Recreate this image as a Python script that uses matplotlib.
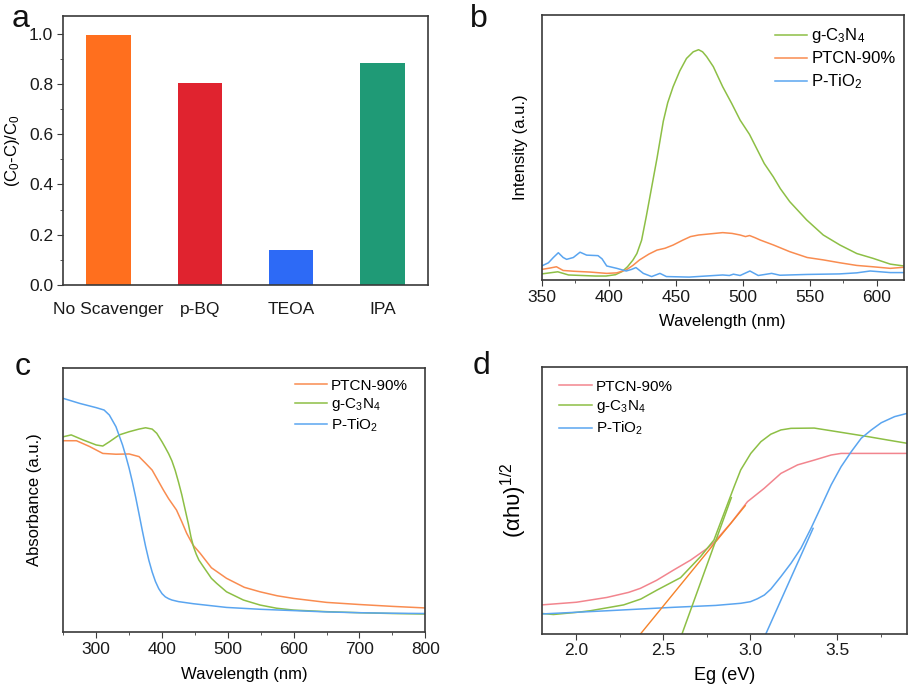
import matplotlib
matplotlib.use("Agg")
import matplotlib.pyplot as plt
from matplotlib.ticker import MultipleLocator

plt.rcParams['font.family'] = ['Liberation Sans', 'DejaVu Sans']
plt.rcParams['mathtext.default'] = 'regular'
plt.rcParams['axes.edgecolor'] = '#3a3a3a'
plt.rcParams['axes.linewidth'] = 1.2
plt.rcParams['xtick.color'] = '#3a3a3a'
plt.rcParams['ytick.color'] = '#3a3a3a'
plt.rcParams['xtick.labelcolor'] = '#1a1a1a'
plt.rcParams['ytick.labelcolor'] = '#1a1a1a'

# ---------------- Panel a: scavenger bars ----------------
scavengers = ['No Scavenger', 'p-BQ', 'TEOA', 'IPA']
removal = [0.995, 0.805, 0.14, 0.885]
bar_colors = ['#FF6F1E', '#E0232F', '#2D6AF6', '#1F9A76']

# ---------------- Panel b: PL spectra ----------------
pl_gcn_wl = [350, 356, 362, 370, 380, 390, 398, 405, 410, 414, 418, 421, 424.5, 428, 432, 436,
             440.7, 444, 448, 453, 458, 463, 467, 470, 473, 478, 485, 491.7, 498, 505, 510, 516,
             522.7, 528, 535, 547.6, 560, 572.5, 585, 597, 610, 620]
pl_gcn = [0.023, 0.027, 0.031, 0.019, 0.017, 0.015, 0.015, 0.02, 0.032, 0.05, 0.075, 0.1, 0.15, 0.24,
          0.35, 0.46, 0.60, 0.67, 0.73, 0.79, 0.837, 0.862, 0.870, 0.862, 0.844, 0.806, 0.73, 0.667,
          0.604, 0.55, 0.50, 0.44, 0.39, 0.345, 0.296, 0.227, 0.17, 0.132, 0.10, 0.082, 0.06, 0.053]
pl_ptcn_wl = [350, 356, 361, 366, 374, 386, 398.5, 406, 413, 418, 423, 430, 436, 442, 448, 455, 461,
              467, 473, 485, 492, 498, 502, 505, 509, 513, 523, 535, 548, 560, 572.5, 585, 597, 610, 620]
pl_ptcn = [0.04, 0.045, 0.05, 0.036, 0.033, 0.03, 0.025, 0.027, 0.038, 0.055, 0.076, 0.098, 0.113,
           0.12, 0.132, 0.15, 0.164, 0.17, 0.173, 0.179, 0.176, 0.17, 0.164, 0.168, 0.16, 0.151, 0.132,
           0.107, 0.085, 0.076, 0.065, 0.055, 0.05, 0.044, 0.048]
pl_tio2_wl = [350, 355, 358.7, 362.4, 366, 368.6, 373.6, 378.6, 383.5, 392, 395, 398.5, 406, 413, 417,
              420.3, 425.8, 432, 438.2, 443, 460, 485, 490, 493, 498, 505.3, 511.5, 521.5, 527.7, 548,
              572, 585, 595, 610, 620]
pl_tio2 = [0.053, 0.065, 0.085, 0.103, 0.085, 0.078, 0.085, 0.105, 0.094, 0.092, 0.08, 0.053, 0.044,
           0.034, 0.04, 0.047, 0.025, 0.013, 0.025, 0.013, 0.011, 0.019, 0.017, 0.022, 0.017, 0.034,
           0.017, 0.025, 0.018, 0.021, 0.023, 0.027, 0.034, 0.028, 0.028]

# ---------------- Panel c: UV-vis absorbance ----------------
abs_tio2_wl = [250, 275, 300, 312, 320, 330, 340, 345, 350, 355, 360, 365, 370, 375, 380, 385, 390,
               395, 400, 405, 410, 415, 425, 447.6, 498, 549, 600, 650, 700, 750, 800]
abs_tio2 = [0.884, 0.865, 0.849, 0.84, 0.821, 0.777, 0.708, 0.666, 0.62, 0.568, 0.51, 0.448, 0.385,
            0.325, 0.272, 0.228, 0.192, 0.165, 0.146, 0.134, 0.127, 0.122, 0.116, 0.108, 0.094, 0.087,
            0.082, 0.077, 0.074, 0.072, 0.071]
abs_gcn_wl = [250, 262, 280, 300, 310, 320, 335, 350, 365, 375, 385, 392, 400, 405, 410, 415, 420, 425,
              430, 435, 440, 444, 448, 452, 456, 462.8, 475, 483, 498, 523.6, 549, 574, 600, 650, 700,
              750, 800]
abs_gcn = [0.739, 0.746, 0.727, 0.708, 0.704, 0.72, 0.746, 0.758, 0.768, 0.773, 0.768, 0.752, 0.72,
           0.698, 0.675, 0.648, 0.612, 0.568, 0.52, 0.465, 0.41, 0.36, 0.322, 0.295, 0.273, 0.248,
           0.204, 0.185, 0.153, 0.122, 0.103, 0.091, 0.084, 0.078, 0.074, 0.071, 0.069]
abs_ptcn_wl = [250, 270, 290, 310, 330, 350, 365, 375, 385, 395, 402, 410, 422, 430, 437.5, 447, 457.8,
               475, 498, 525, 549, 575, 600, 650, 700, 750, 800]
abs_ptcn = [0.724, 0.724, 0.702, 0.676, 0.673, 0.674, 0.664, 0.639, 0.613, 0.569, 0.538, 0.505, 0.462,
            0.418, 0.374, 0.33, 0.299, 0.244, 0.204, 0.17, 0.153, 0.138, 0.128, 0.113, 0.105, 0.098,
            0.092]

# ---------------- Panel d: Tauc plots ----------------
tauc_ptcn_e = [1.8, 2.0, 2.175, 2.3, 2.367, 2.46, 2.559, 2.656, 2.752, 2.79, 2.887, 2.983, 3.079, 3.175,
               3.271, 3.367, 3.464, 3.521, 3.9]
tauc_ptcn = [0.108, 0.118, 0.136, 0.155, 0.17, 0.2, 0.239, 0.276, 0.32, 0.342, 0.414, 0.495, 0.545,
             0.601, 0.633, 0.651, 0.67, 0.676, 0.676]
tauc_gcn_e = [1.8, 1.867, 2.0, 2.079, 2.271, 2.37, 2.464, 2.598, 2.713, 2.79, 2.848, 2.906, 2.944,
              3.002, 3.06, 3.117, 3.175, 3.233, 3.367, 3.464, 3.56, 3.675, 3.791, 3.9]
tauc_gcn = [0.076, 0.072, 0.08, 0.086, 0.108, 0.13, 0.164, 0.21, 0.289, 0.351, 0.451, 0.551, 0.614,
            0.676, 0.72, 0.748, 0.764, 0.77, 0.771, 0.761, 0.751, 0.739, 0.726, 0.714]
tauc_tio2_e = [1.8, 2.175, 2.559, 2.8, 2.944, 3.0, 3.04, 3.08, 3.117, 3.175, 3.233, 3.29, 3.348, 3.406,
               3.464, 3.521, 3.579, 3.637, 3.695, 3.752, 3.829, 3.9]
tauc_tio2 = [0.074, 0.086, 0.099, 0.106, 0.114, 0.12, 0.131, 0.145, 0.167, 0.214, 0.264, 0.32, 0.395,
             0.476, 0.558, 0.626, 0.682, 0.733, 0.764, 0.791, 0.814, 0.826]
fit_ptcn_e = [2.369, 2.97]
fit_ptcn = [0.0, 0.48]
fit_gcn_e = [2.607, 2.89]
fit_gcn = [0.0, 0.51]
fit_tio2_e = [3.089, 3.36]
fit_tio2 = [0.0, 0.395]

C_GREEN = '#8DBF45'
C_ORANGE = '#F98C50'
C_BLUE = '#5AA5F0'
C_PINK = '#F2858E'
C_FIT_ORANGE = '#F5822A'

FS = 12
TS = 12.5

fig = plt.figure(figsize=(9.11, 6.90), dpi=100)

def frac(l, t, r, b):
    return [l / 911, 1 - b / 690, (r - l) / 911, (b - t) / 690]

def xticks_style(ax):
    ax.tick_params(axis='x', which='major', direction='out', length=4, labelsize=TS, pad=3)
    ax.tick_params(axis='x', which='minor', direction='out', length=2.5)

# ---------- a ----------
ax = fig.add_axes(frac(63, 16, 428, 285))
xs = list(range(len(scavengers)))
ax.bar(xs, removal, width=0.49, color=bar_colors)
ax.set_xlim(-0.5, 3.5)
ax.set_ylim(0, 1.07)
ax.set_xticks(xs)
ax.set_xticklabels(scavengers, fontsize=TS)
ax.tick_params(axis='x', length=0, pad=12)
ax.yaxis.set_major_locator(MultipleLocator(0.2))
ax.yaxis.set_minor_locator(MultipleLocator(0.1))
ax.yaxis.set_major_formatter(plt.FormatStrFormatter('%.1f'))
ax.tick_params(axis='y', which='major', direction='out', length=4, labelsize=TS, pad=3)
ax.tick_params(axis='y', which='minor', direction='out', length=2.5)
ax.set_ylabel('(C$_0$-C)/C$_0$', fontsize=FS, labelpad=5)

# ---------- b ----------
ax = fig.add_axes(frac(541.7, 15.3, 903.7, 280))
ax.plot(pl_gcn_wl, pl_gcn, color=C_GREEN, lw=1.1, label='g-C$_3$N$_4$')
ax.plot(pl_ptcn_wl, pl_ptcn, color=C_ORANGE, lw=1.1, label='PTCN-90%')
ax.plot(pl_tio2_wl, pl_tio2, color=C_BLUE, lw=1.1, label='P-TiO$_2$')
ax.set_xlim(350, 620)
ax.set_ylim(0, 1)
ax.set_yticks([])
ax.xaxis.set_major_locator(MultipleLocator(50))
ax.xaxis.set_minor_locator(MultipleLocator(25))
xticks_style(ax)
ax.set_xlabel('Wavelength (nm)', fontsize=FS, labelpad=7)
ax.set_ylabel('Intensity (a.u.)', fontsize=FS, labelpad=10)
ax.legend(loc='upper left', bbox_to_anchor=(0.645, 0.958), frameon=False, fontsize=12,
          handlelength=1.9, handletextpad=0.27, borderpad=0, borderaxespad=0, labelspacing=0.36)

# ---------- c ----------
ax = fig.add_axes(frac(63.3, 367.7, 425.3, 632.3))
ax.plot(abs_ptcn_wl, abs_ptcn, color=C_ORANGE, lw=1.1, label='PTCN-90%')
ax.plot(abs_gcn_wl, abs_gcn, color=C_GREEN, lw=1.1, label='g-C$_3$N$_4$')
ax.plot(abs_tio2_wl, abs_tio2, color=C_BLUE, lw=1.1, label='P-TiO$_2$')
ax.set_xlim(250, 800)
ax.set_ylim(0, 1)
ax.set_yticks([])
ax.xaxis.set_major_locator(MultipleLocator(100))
ax.xaxis.set_minor_locator(MultipleLocator(50))
xticks_style(ax)
ax.set_xlabel('Wavelength (nm)', fontsize=FS, labelpad=7)
ax.set_ylabel('Absorbance (a.u.)', fontsize=FS, labelpad=15)
ax.legend(loc='upper left', bbox_to_anchor=(0.64, 0.958), frameon=False, fontsize=11,
          handlelength=2.1, handletextpad=0.27, borderpad=0, borderaxespad=0, labelspacing=0.22)

# ---------- d ----------
ax = fig.add_axes(frac(541.7, 367, 907, 633.7))
ax.plot(tauc_ptcn_e, tauc_ptcn, color=C_PINK, lw=1.1, label='PTCN-90%')
ax.plot(tauc_gcn_e, tauc_gcn, color=C_GREEN, lw=1.1, label='g-C$_3$N$_4$')
ax.plot(tauc_tio2_e, tauc_tio2, color=C_BLUE, lw=1.1, label='P-TiO$_2$')
ax.plot(fit_ptcn_e, fit_ptcn, color=C_FIT_ORANGE, lw=1.0)
ax.plot(fit_gcn_e, fit_gcn, color=C_GREEN, lw=1.1)
ax.plot(fit_tio2_e, fit_tio2, color=C_BLUE, lw=1.1)
ax.set_xlim(1.8, 3.9)
ax.set_ylim(0, 1)
ax.set_yticks([])
ax.xaxis.set_major_locator(MultipleLocator(0.5))
ax.xaxis.set_minor_locator(MultipleLocator(0.25))
ax.xaxis.set_major_formatter(plt.FormatStrFormatter('%.1f'))
xticks_style(ax)
ax.set_xlabel('Eg (eV)', fontsize=FS + 1, labelpad=6)
ax.set_ylabel('(αhυ)$^{1/2}$', fontsize=16, labelpad=9)
ax.legend(loc='upper left', bbox_to_anchor=(0.048, 0.952), frameon=False, fontsize=11,
          handlelength=2.15, handletextpad=0.27, borderpad=0, borderaxespad=0, labelspacing=0.3)

# panel letters
for letter, x, y in [('a', 12, 27), ('b', 470, 27), ('c', 15, 375), ('d', 473, 374)]:
    fig.text(x / 911, 1 - y / 690, letter, fontsize=23, va='baseline', ha='left', color='#111111')

fig.savefig('out.png', dpi=100)
